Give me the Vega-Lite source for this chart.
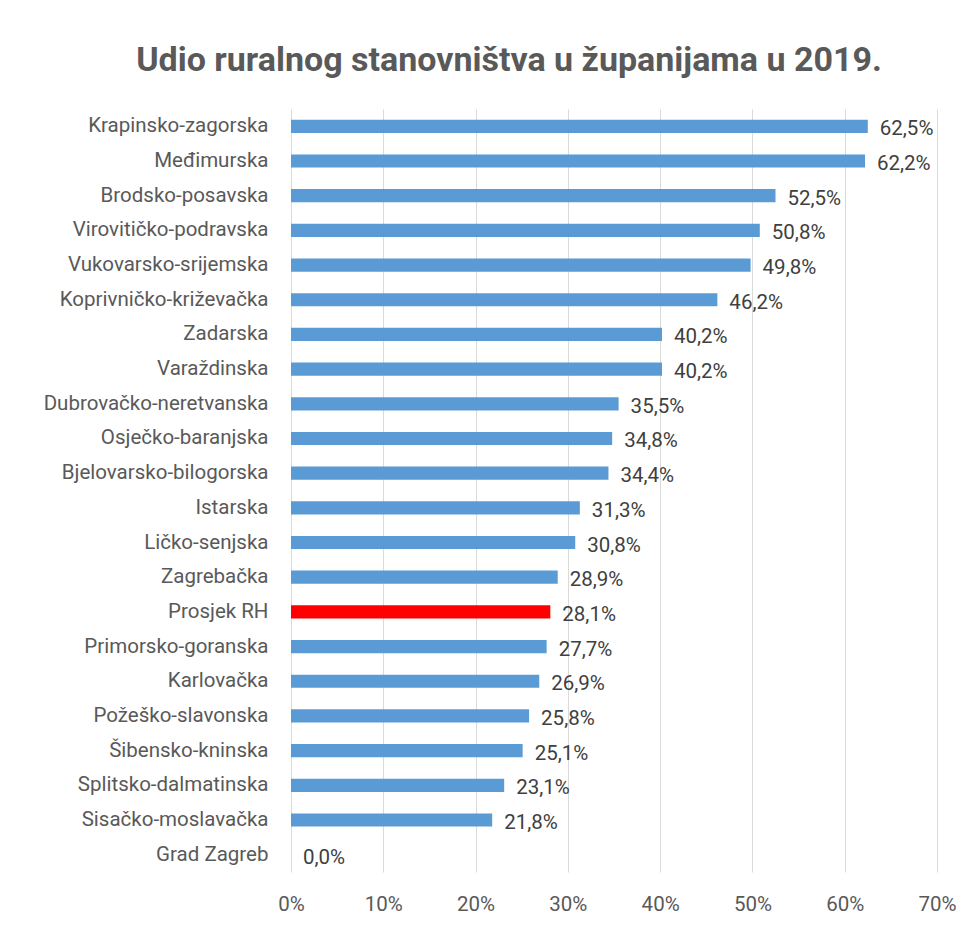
{
  "$schema": "https://vega.github.io/schema/vega-lite/v6.json",
  "autosize": {"type": "none"},
  "width": 646,
  "height": 763,
  "padding": {"left": 291, "top": 109, "right": 36, "bottom": 56},
  "background": "white",
  "config": {
    "locale": {"number": {"decimal": ",", "thousands": ".", "grouping": [3], "currency": ["", " €"]}},
    "font": "Roboto",
    "view": {"stroke": null}
  },
  "title": {
    "text": "Udio ruralnog stanovništva u županijama u 2019.",
    "font": "Roboto",
    "fontSize": 34,
    "fontWeight": "bold",
    "color": "#595959",
    "anchor": "middle",
    "dx": -105,
    "offset": 31
  },
  "data": {
    "values": [
      {"zupanija": "Krapinsko-zagorska", "udio": 0.625, "vrsta": "županija"},
      {"zupanija": "Međimurska", "udio": 0.622, "vrsta": "županija"},
      {"zupanija": "Brodsko-posavska", "udio": 0.525, "vrsta": "županija"},
      {"zupanija": "Virovitičko-podravska", "udio": 0.508, "vrsta": "županija"},
      {"zupanija": "Vukovarsko-srijemska", "udio": 0.498, "vrsta": "županija"},
      {"zupanija": "Koprivničko-križevačka", "udio": 0.462, "vrsta": "županija"},
      {"zupanija": "Zadarska", "udio": 0.402, "vrsta": "županija"},
      {"zupanija": "Varaždinska", "udio": 0.402, "vrsta": "županija"},
      {"zupanija": "Dubrovačko-neretvanska", "udio": 0.355, "vrsta": "županija"},
      {"zupanija": "Osječko-baranjska", "udio": 0.348, "vrsta": "županija"},
      {"zupanija": "Bjelovarsko-bilogorska", "udio": 0.344, "vrsta": "županija"},
      {"zupanija": "Istarska", "udio": 0.313, "vrsta": "županija"},
      {"zupanija": "Ličko-senjska", "udio": 0.308, "vrsta": "županija"},
      {"zupanija": "Zagrebačka", "udio": 0.289, "vrsta": "županija"},
      {"zupanija": "Prosjek RH", "udio": 0.281, "vrsta": "prosjek"},
      {"zupanija": "Primorsko-goranska", "udio": 0.277, "vrsta": "županija"},
      {"zupanija": "Karlovačka", "udio": 0.269, "vrsta": "županija"},
      {"zupanija": "Požeško-slavonska", "udio": 0.258, "vrsta": "županija"},
      {"zupanija": "Šibensko-kninska", "udio": 0.251, "vrsta": "županija"},
      {"zupanija": "Splitsko-dalmatinska", "udio": 0.231, "vrsta": "županija"},
      {"zupanija": "Sisačko-moslavačka", "udio": 0.218, "vrsta": "županija"},
      {"zupanija": "Grad Zagreb", "udio": 0.0, "vrsta": "županija"}
    ]
  },
  "encoding": {
    "y": {
      "field": "zupanija",
      "type": "nominal",
      "sort": null,
      "title": null,
      "scale": {"paddingInner": 0.62, "paddingOuter": 0.31},
      "axis": {
        "domain": false,
        "ticks": false,
        "labelFontSize": 20.5,
        "labelColor": "#595959",
        "labelPadding": 23,
        "labelFont": "Roboto",
        "labelLimit": 300
      }
    },
    "x": {
      "field": "udio",
      "type": "quantitative",
      "title": null,
      "scale": {"domain": [0, 0.7], "nice": false},
      "axis": {
        "format": ".0%",
        "values": [0, 0.1, 0.2, 0.3, 0.4, 0.5, 0.6, 0.7],
        "domain": false,
        "ticks": false,
        "grid": true,
        "gridColor": "#D9D9D9",
        "gridWidth": 1,
        "labelFlush": false,
        "labelFontSize": 20.5,
        "labelColor": "#595959",
        "labelPadding": 22,
        "labelFont": "Roboto"
      }
    }
  },
  "layer": [
    {
      "mark": {"type": "bar"},
      "encoding": {
        "color": {
          "field": "vrsta",
          "type": "nominal",
          "scale": {"domain": ["županija", "prosjek"], "range": ["#5B9BD5", "#FF0000"]},
          "legend": null
        }
      }
    },
    {
      "mark": {"type": "text", "align": "left", "baseline": "middle", "dx": 12, "dy": 3, "fontSize": 20.5, "color": "#404040", "font": "Roboto"},
      "encoding": {
        "text": {"field": "udio", "type": "quantitative", "format": ".1%"}
      }
    }
  ]
}
